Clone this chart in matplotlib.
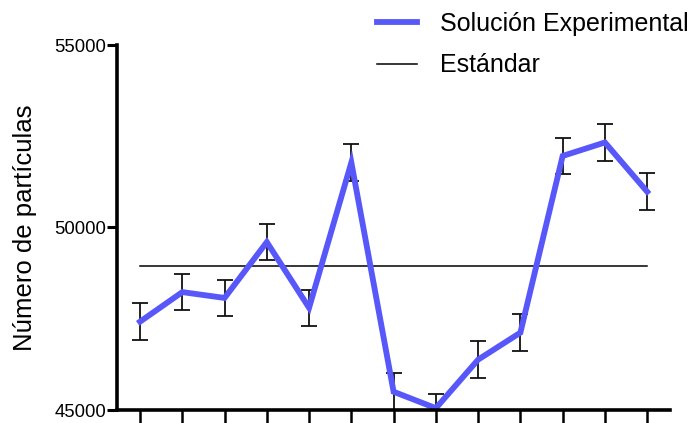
import matplotlib
matplotlib.use("Agg")
import matplotlib.pyplot as plt
from matplotlib.lines import Line2D

plt.rcParams['font.family'] = ['Liberation Sans', 'DejaVu Sans']

# Sample index, measured particle counts and their error
muestras = list(range(1, 14))
particulas = [47420, 48230, 48070, 49600, 47800, 51780, 45500, 45050, 46380, 47120, 51960, 52330, 50980]
error = [500, 500, 500, 500, 500, 500, 500, 400, 500, 500, 500, 500, 500]
estandar = 48950

color_exp = '#5858fa'

fig = plt.figure(figsize=(6.97, 4.23), dpi=100)
ax = fig.add_axes([117/697, 1 - 410/423, (670 - 117)/697, (410 - 45)/423])

ax.errorbar(muestras, particulas, yerr=error, fmt='none', ecolor='#111111',
            elinewidth=1.3, capsize=6, capthick=1.3, zorder=2)
ax.plot(muestras, particulas, color=color_exp, lw=4.2, solid_joinstyle='miter',
        zorder=3, clip_on=False)
ax.plot([muestras[0], muestras[-1]], [estandar, estandar], color='black', lw=1.1, zorder=1)

ax.set_xlim(0.455, 13.54)
ax.set_ylim(45000, 55000)
ax.set_yticks([45000, 50000, 55000])
ax.set_xticks(muestras)
ax.set_xticklabels([])

for s in ['top', 'right']:
    ax.spines[s].set_visible(False)
for s in ['left', 'bottom']:
    ax.spines[s].set_linewidth(2.6)
    ax.spines[s].set_zorder(4)

ax.tick_params(axis='y', length=7, width=2.2, pad=1, labelsize=13.3)
ax.tick_params(axis='x', length=12, width=1.8)

ax.set_ylabel('Número de partículas', fontsize=18.5)
ax.yaxis.set_label_coords(-0.145, 0.5)

handles = [Line2D([], [], color=color_exp, lw=4.2),
           Line2D([], [], color='black', lw=1.1)]
fig.legend(handles, ['Solución Experimental', 'Estándar'],
           loc='upper left', bbox_to_anchor=(372/697, 1 - 7/423),
           frameon=False, fontsize=18, handlelength=1.6, handletextpad=0.9,
           labelspacing=0.7, borderpad=0.2, borderaxespad=0)

fig.savefig('out.png', dpi=100)
